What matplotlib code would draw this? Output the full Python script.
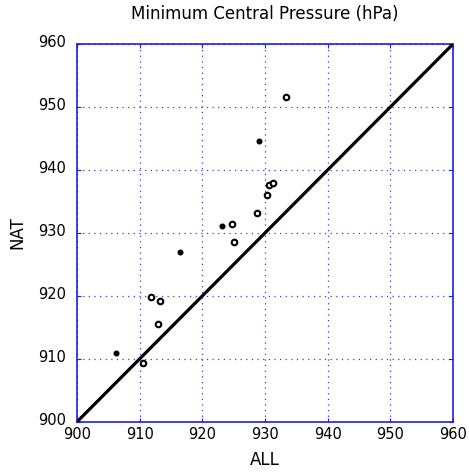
import numpy as np
import matplotlib
matplotlib.use('Agg')
import matplotlib.pyplot as plt
from matplotlib.transforms import ScaledTranslation

# filled dots
all_f = [906.3, 916.5, 923.2, 929.1]
nat_f = [911.0, 927.0, 931.1, 944.6]
# open circles
all_o = [910.6, 911.8, 913.2, 913.0, 924.8, 925.1, 928.8, 930.4, 930.7, 931.2, 933.3]
nat_o = [909.3, 919.8, 919.2, 915.6, 931.4, 928.5, 933.2, 936.0, 937.6, 938.0, 951.6]

ticks = [900, 910, 920, 930, 940, 950, 960]
blue = '#2020e0'

fig = plt.figure(figsize=(4.69, 4.73), dpi=100)
ax = fig.add_axes([0.164, 0.108, 0.802, 0.799])

ax.plot([900, 960], [900, 960], color='black', linewidth=2.3, zorder=3)
ax.plot(all_f, nat_f, 'o', color='black', markersize=3.3, zorder=4)
ax.plot(all_o, nat_o, 'o', markerfacecolor='white', markeredgecolor='black',
        markeredgewidth=1.5, markersize=4.0, zorder=4)

ax.set_xlim(900, 960)
ax.set_ylim(900, 960)
ax.set_xticks(ticks)
ax.set_yticks(ticks)
ax.grid(True, color='#3a3ae0', linestyle=(0, (1, 3.5)), linewidth=0.9)
for s in ax.spines.values():
    s.set_color(blue)
    s.set_linewidth(1.2)
ax.tick_params(direction='in', length=3, color=blue, labelsize=10.5,
               top=True, right=True)
ax.tick_params(axis='x', pad=4)
ax.tick_params(axis='y', pad=8)
# nudge y labels up a bit, like the original
for lbl in ax.get_yticklabels():
    lbl.set_transform(lbl.get_transform() + ScaledTranslation(0, 0.03, fig.dpi_scale_trans))
ax.set_xlabel('ALL', fontsize=12, labelpad=6)
ax.set_ylabel('NAT', fontsize=12, labelpad=8)
ax.set_title('Minimum Central Pressure (hPa)', fontsize=12, pad=18)

fig.savefig('out.png', dpi=100)
